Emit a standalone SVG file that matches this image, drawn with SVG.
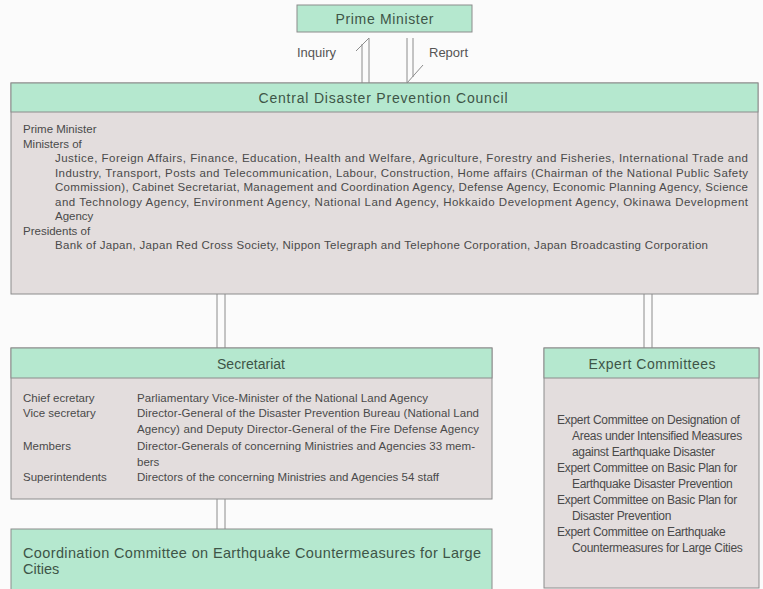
<svg xmlns="http://www.w3.org/2000/svg" width="763" height="589" viewBox="0 0 763 589">
<style>
.hdr{fill:#b5e8cf;stroke:#8c8c8c;stroke-width:1}
.body{fill:#e3dddd;stroke:#8c8c8c;stroke-width:1}
.ht{font-family:"Liberation Sans",Arial,sans-serif;font-size:14px;fill:#3e5547;text-anchor:middle}
.t{font-family:"Liberation Sans",Arial,sans-serif;font-size:11.5px;fill:#4a4a4a}
.e{font-family:"Liberation Sans",Arial,sans-serif;font-size:12px;fill:#4a4a4a;letter-spacing:-0.3px}
.lbl{font-family:"Liberation Sans",Arial,sans-serif;font-size:13px;fill:#555}
.c{fill:none;stroke:#8c8c8c;stroke-width:1}
</style>
<rect width="763" height="589" fill="#fbfbfb"/>
<g id="connectors">
  <line class="c" x1="362" y1="44" x2="362" y2="83"/>
  <line class="c" x1="369" y1="38" x2="369" y2="83"/>
  <line class="c" x1="369" y1="38" x2="356" y2="51"/>
  <line class="c" x1="407" y1="38" x2="407" y2="83"/>
  <line class="c" x1="413" y1="38" x2="413" y2="77"/>
  <line class="c" x1="407" y1="83" x2="423" y2="65"/>
  <line class="c" x1="217" y1="294" x2="217" y2="348"/>
  <line class="c" x1="225" y1="294" x2="225" y2="348"/>
  <line class="c" x1="644" y1="294" x2="644" y2="348"/>
  <line class="c" x1="652" y1="294" x2="652" y2="348"/>
  <line class="c" x1="217" y1="499" x2="217" y2="529"/>
  <line class="c" x1="225" y1="499" x2="225" y2="529"/>
  <text class="lbl" x="297" y="57">Inquiry</text>
  <text class="lbl" x="429" y="57">Report</text>
</g>
<g id="prime-minister">
  <rect class="hdr" x="297" y="5" width="175" height="27"/>
  <text class="ht" x="384.5" y="24" textLength="98" lengthAdjust="spacing">Prime Minister</text>
</g>
<g id="council">
  <rect class="body" x="11" y="83" width="747" height="211"/>
  <rect class="hdr" x="11" y="83" width="747" height="29"/>
  <text class="ht" x="383" y="103" textLength="249" lengthAdjust="spacing">Central Disaster Prevention Council</text>
  <text class="t" x="23" y="133">Prime Minister</text>
  <text class="t" x="23" y="147.5">Ministers of</text>
  <text class="t" x="55" y="162" textLength="693" lengthAdjust="spacing">Justice, Foreign Affairs, Finance, Education, Health and Welfare, Agriculture, Forestry and Fisheries, International Trade and</text>
  <text class="t" x="55" y="176.5" textLength="693" lengthAdjust="spacing">Industry, Transport, Posts and Telecommunication, Labour, Construction, Home affairs (Chairman of the National Public Safety</text>
  <text class="t" x="55" y="191" textLength="693" lengthAdjust="spacing">Commission), Cabinet Secretariat, Management and Coordination Agency, Defense Agency, Economic Planning Agency, Science</text>
  <text class="t" x="55" y="205.5" textLength="693" lengthAdjust="spacing">and Technology Agency, Environment Agency, National Land Agency, Hokkaido Development Agency, Okinawa Development</text>
  <text class="t" x="55" y="220">Agency</text>
  <text class="t" x="23" y="234.5">Presidents of</text>
  <text class="t" x="55" y="249" textLength="653" lengthAdjust="spacing">Bank of Japan, Japan Red Cross Society, Nippon Telegraph and Telephone Corporation, Japan Broadcasting Corporation</text>
</g>
<g id="secretariat">
  <rect class="body" x="11" y="348" width="481" height="151"/>
  <rect class="hdr" x="11" y="348" width="481" height="30"/>
  <text class="ht" x="251" y="369" textLength="68" lengthAdjust="spacing">Secretariat</text>
  <text class="t" x="23" y="402">Chief ecretary</text>
  <text class="t" x="137" y="402" textLength="291" lengthAdjust="spacing">Parliamentary Vice-Minister of the National Land Agency</text>
  <text class="t" x="23" y="417">Vice secretary</text>
  <text class="t" x="137" y="417" textLength="342" lengthAdjust="spacing">Director-General of the Disaster Prevention Bureau (National Land</text>
  <text class="t" x="137" y="433" textLength="342" lengthAdjust="spacing">Agency) and Deputy Director-General of the Fire Defense Agency</text>
  <text class="t" x="23" y="450">Members</text>
  <text class="t" x="137" y="450" textLength="338" lengthAdjust="spacing">Director-Generals of concerning Ministries and Agencies 33 mem-</text>
  <text class="t" x="137" y="466">bers</text>
  <text class="t" x="23" y="481">Superintendents</text>
  <text class="t" x="137" y="481" textLength="302" lengthAdjust="spacing">Directors of the concerning Ministries and Agencies 54 staff</text>
</g>
<g id="coordination">
  <rect class="hdr" x="11" y="529" width="481" height="70"/>
  <text class="ht" x="23" y="558" style="text-anchor:start;font-size:14.5px" textLength="458" lengthAdjust="spacing">Coordination Committee on Earthquake Countermeasures for Large</text>
  <text class="ht" x="23" y="574" style="text-anchor:start;font-size:14.5px">Cities</text>
</g>
<g id="expert-committees">
  <rect class="body" x="544" y="348" width="215" height="240"/>
  <rect class="hdr" x="544" y="348" width="215" height="30"/>
  <text class="ht" x="652" y="369" textLength="127" lengthAdjust="spacing">Expert Committees</text>
  <text class="e" x="557" y="424">Expert Committee on Designation of</text>
  <text class="e" x="572" y="440">Areas under Intensified Measures</text>
  <text class="e" x="572" y="456">against Earthquake Disaster</text>
  <text class="e" x="557" y="472">Expert Committee on Basic Plan for</text>
  <text class="e" x="572" y="488">Earthquake Disaster Prevention</text>
  <text class="e" x="557" y="504">Expert Committee on Basic Plan for</text>
  <text class="e" x="572" y="520">Disaster Prevention</text>
  <text class="e" x="557" y="536">Expert Committee on Earthquake</text>
  <text class="e" x="572" y="552">Countermeasures for Large Cities</text>
</g>
</svg>
